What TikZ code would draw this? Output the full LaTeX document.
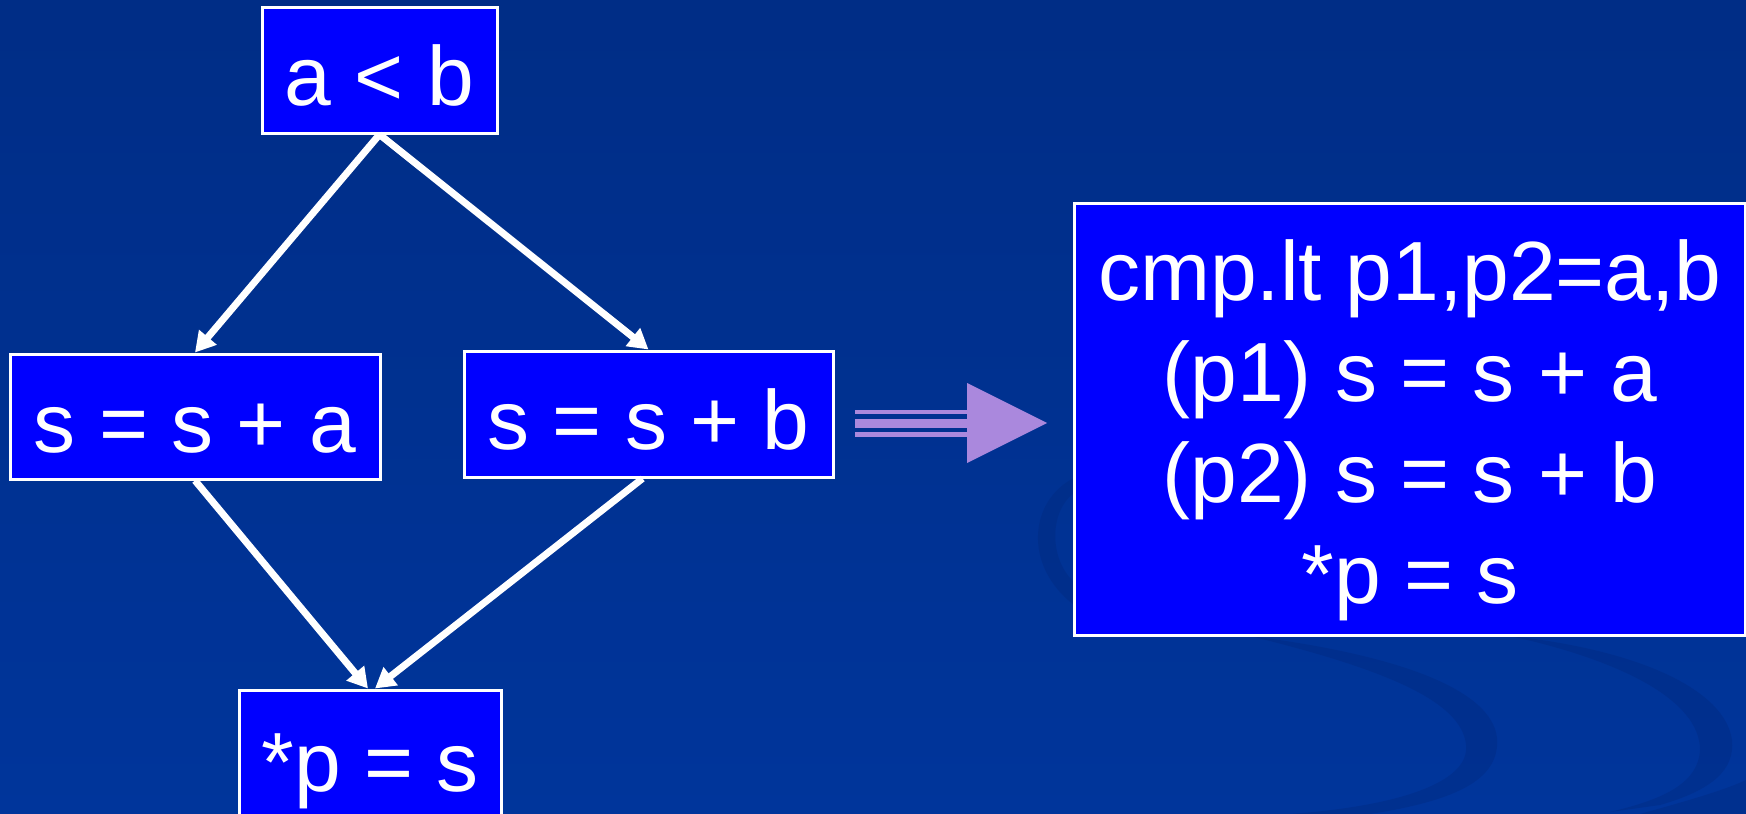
\documentclass[tikz,border=0pt]{standalone}
\usepackage{fontspec}
\setmainfont{Liberation Sans}
\usetikzlibrary{arrows.meta}

\definecolor{bgtop}{RGB}{0,45,134}
\definecolor{bgbot}{RGB}{0,53,155}
\definecolor{swirl}{RGB}{0,38,120}
\definecolor{boxblue}{RGB}{0,0,255}
\definecolor{lavender}{RGB}{170,136,221}

\tikzset{
  codebox/.style={draw=white, line width=3pt, fill=boxblue, text=white,
    font=\fontsize{84}{100}\selectfont, inner sep=0pt,
    text height=76pt, text depth=5pt},
  flow/.style={draw=white, line width=7pt,
    -{Triangle[length=20pt,width=22pt]}},
  bigarrow/.style={fill=lavender},
  swoosh/.style={fill=swirl, opacity=0.32}
}

\begin{document}
\begin{tikzpicture}[x=1pt,y=-1pt]
  \useasboundingbox (0,0) rectangle (1746,814);
  \clip (0,0) rectangle (1746,814);

  % slide background with its swooshes
  \shade[top color=bgtop, bottom color=bgbot] (0,0) rectangle (1746,814);
  \fill[swoosh] (1074,478) .. controls (1030,500) and (1022,565) .. (1074,605)
    -- (1074,582) .. controls (1048,558) and (1050,510) .. (1074,493) -- cycle;
  \fill[swoosh] (1250,636) .. controls (1380,668) and (1462,700) .. (1466,745)
    .. controls (1470,782) and (1400,806) .. (1290,814)
    -- (1370,814) .. controls (1460,800) and (1500,778) .. (1497,738)
    .. controls (1492,690) and (1400,655) .. (1250,636) -- cycle;
  \fill[swoosh] (1510,636) .. controls (1620,660) and (1700,700) .. (1700,750)
    .. controls (1698,785) and (1660,800) .. (1610,812)
    -- (1660,805) .. controls (1712,790) and (1735,770) .. (1732,740)
    .. controls (1725,690) and (1640,650) .. (1510,636) -- cycle;
  \fill[swoosh] (1640,814) .. controls (1690,800) and (1725,790) .. (1746,780)
    -- (1746,814) -- cycle;

  % control-flow graph
  \node[codebox, minimum width=235pt, minimum height=126pt] (cond) at (379.5,70) {a < b};
  \node[codebox, minimum width=370pt, minimum height=125pt] (sa) at (195,416.5) {s = s + a};
  \node[codebox, minimum width=369pt, minimum height=126pt] (sb) at (648.5,414) {s = s + b};
  \node[codebox, minimum width=262pt, minimum height=132pt] (store) at (370,756) {*p = s};

  \draw[flow] (cond.south) -- (sa.north);
  \draw[flow] (cond.south) -- (sb.north);
  \draw[flow] (sa.south) -- ([xshift=-2pt]store.north);
  \draw[flow] ([xshift=-6pt]sb.south) -- ([xshift=5pt]store.north);

  % predicated code
  \node[draw=white, line width=3pt, fill=boxblue, minimum width=671pt,
        minimum height=432pt, inner sep=0pt] (big) at (1409.5,419) {};
  \node[text=white, font=\fontsize{84}{101}\selectfont, align=center,
        inner sep=0pt] (bigtxt) at (1410,430)
    {cmp.lt p1,p2=a,b\\(p1) s = s + a\\(p2) s = s + b\\*p = s};

  % transformation arrow
  \fill[bigarrow] (855,410) rectangle (967,414);
  \fill[bigarrow] (855,419) rectangle (967,428);
  \fill[bigarrow] (855,432) rectangle (967,437);
  \fill[bigarrow] (967,383) -- (1047,423) -- (967,463) -- cycle;
\end{tikzpicture}
\end{document}
